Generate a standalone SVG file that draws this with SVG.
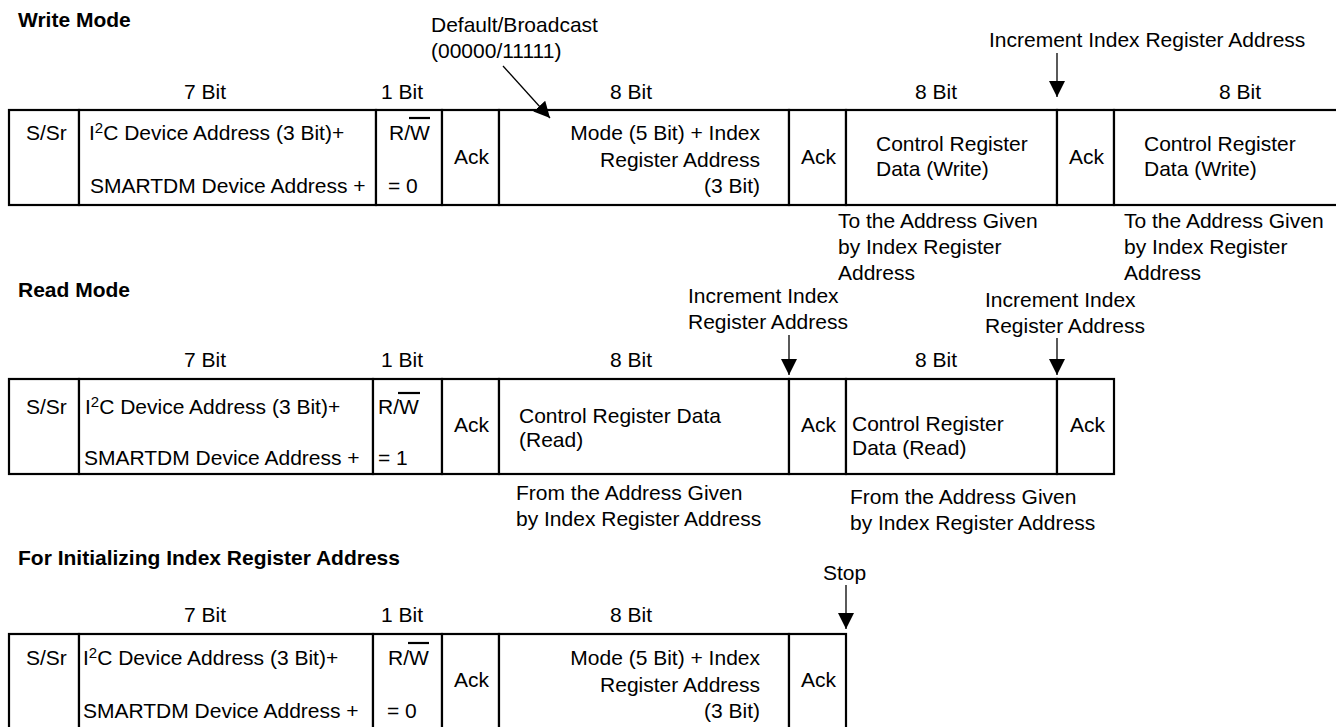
<svg xmlns="http://www.w3.org/2000/svg" width="1336" height="727" viewBox="0 0 1336 727">
<defs>
<style>
text{font-family:"Liberation Sans",Arial,Helvetica,sans-serif;font-size:21px;fill:#000}
.h{font-weight:bold}
.c{fill:#fff;stroke:#000;stroke-width:2.2}
.ov{stroke:#000;stroke-width:2.2}
.ar{stroke:#000;stroke-width:1.3;fill:none}
.sup{font-size:15px}
.e{text-anchor:end}
</style>
<marker id="ah" viewBox="0 0 16 16" refX="16" refY="8" markerWidth="16" markerHeight="16" markerUnits="userSpaceOnUse" orient="auto">
<path d="M0,0 L16,8 L0,16 Z" fill="#000"/>
</marker>
</defs>
<rect width="1336" height="727" fill="#fff"/>

<text class="h" x="18" y="27">Write Mode</text>
<text class="h" x="18" y="297">Read Mode</text>
<text class="h" x="18" y="565">For Initializing Index Register Address</text>

<g id="write-labels">
<text x="184" y="99">7 Bit</text>
<text x="381" y="99">1 Bit</text>
<text x="610" y="99">8 Bit</text>
<text x="915" y="99">8 Bit</text>
<text x="1219" y="99">8 Bit</text>
<text x="431" y="32">Default/Broadcast</text>
<text x="431" y="58">(00000/11111)</text>
<text x="989" y="47">Increment Index Register Address</text>
<text x="838" y="228">To the Address Given</text>
<text x="838" y="254">by Index Register</text>
<text x="838" y="280">Address</text>
<text x="1124" y="228">To the Address Given</text>
<text x="1124" y="254">by Index Register</text>
<text x="1124" y="280">Address</text>
</g>

<g id="w-start"><rect class="c" x="9" y="110" width="70" height="95"/><text x="26" y="140">S/Sr</text></g>
<g id="w-addr"><rect class="c" x="79" y="110" width="297" height="95"/><text x="89" y="140">I<tspan class="sup" dy="-7">2</tspan><tspan dy="7">C Device Address (3 Bit)+</tspan></text><text x="90" y="193">SMARTDM Device Address +</text></g>
<g id="w-rw"><rect class="c" x="376" y="110" width="66" height="95"/><text x="389" y="140">R/W</text><line class="ov" x1="409" y1="118" x2="430" y2="118"/><text x="388" y="193">= 0</text></g>
<g id="w-ack1"><rect class="c" x="442" y="110" width="57" height="95"/><text x="454" y="164">Ack</text></g>
<g id="w-mode"><rect class="c" x="499" y="110" width="290" height="95"/><text class="e" x="760" y="140">Mode (5 Bit) + Index</text><text class="e" x="760" y="167">Register Address</text><text class="e" x="760" y="193">(3 Bit)</text></g>
<g id="w-ack2"><rect class="c" x="789" y="110" width="57" height="95"/><text x="801" y="164">Ack</text></g>
<g id="w-data1"><rect class="c" x="846" y="110" width="211" height="95"/><text x="876" y="151">Control Register</text><text x="876" y="176">Data (Write)</text></g>
<g id="w-ack3"><rect class="c" x="1057" y="110" width="57" height="95"/><text x="1069" y="164">Ack</text></g>
<g id="w-data2"><rect class="c" x="1114" y="110" width="240" height="95"/><text x="1144" y="151">Control Register</text><text x="1144" y="176">Data (Write)</text></g>

<g id="read-labels">
<text x="184" y="367">7 Bit</text>
<text x="381" y="367">1 Bit</text>
<text x="610" y="367">8 Bit</text>
<text x="915" y="367">8 Bit</text>
<text x="688" y="303">Increment Index</text>
<text x="688" y="329">Register Address</text>
<text x="985" y="307">Increment Index</text>
<text x="985" y="333">Register Address</text>
<text x="516" y="500">From the Address Given</text>
<text x="516" y="526">by Index Register Address</text>
<text x="850" y="504">From the Address Given</text>
<text x="850" y="530">by Index Register Address</text>
</g>

<g id="r-start"><rect class="c" x="9" y="379" width="70" height="95"/><text x="26" y="414">S/Sr</text></g>
<g id="r-addr"><rect class="c" x="79" y="379" width="294" height="95"/><text x="85" y="414">I<tspan class="sup" dy="-7">2</tspan><tspan dy="7">C Device Address (3 Bit)+</tspan></text><text x="84" y="465">SMARTDM Device Address +</text></g>
<g id="r-rw"><rect class="c" x="373" y="379" width="69" height="95"/><text x="378" y="414">R/W</text><line class="ov" x1="398" y1="393" x2="420" y2="393"/><text x="378" y="465">= 1</text></g>
<g id="r-ack1"><rect class="c" x="442" y="379" width="57" height="95"/><text x="454" y="432">Ack</text></g>
<g id="r-data1"><rect class="c" x="499" y="379" width="290" height="95"/><text x="519" y="423">Control Register Data</text><text x="519" y="447">(Read)</text></g>
<g id="r-ack2"><rect class="c" x="789" y="379" width="57" height="95"/><text x="801" y="432">Ack</text></g>
<g id="r-data2"><rect class="c" x="846" y="379" width="211" height="95"/><text x="852" y="431">Control Register</text><text x="852" y="455">Data (Read)</text></g>
<g id="r-ack3"><rect class="c" x="1057" y="379" width="57" height="95"/><text x="1070" y="432">Ack</text></g>

<g id="init-labels">
<text x="184" y="622">7 Bit</text>
<text x="381" y="622">1 Bit</text>
<text x="610" y="622">8 Bit</text>
<text x="823" y="580">Stop</text>
</g>

<g id="i-start"><rect class="c" x="9" y="634" width="70" height="95"/><text x="26" y="665">S/Sr</text></g>
<g id="i-addr"><rect class="c" x="79" y="634" width="294" height="95"/><text x="83" y="665">I<tspan class="sup" dy="-7">2</tspan><tspan dy="7">C Device Address (3 Bit)+</tspan></text><text x="83" y="718">SMARTDM Device Address +</text></g>
<g id="i-rw"><rect class="c" x="373" y="634" width="69" height="95"/><text x="388" y="665">R/W</text><line class="ov" x1="408" y1="643" x2="429" y2="643"/><text x="387" y="718">= 0</text></g>
<g id="i-ack1"><rect class="c" x="442" y="634" width="57" height="95"/><text x="454" y="687">Ack</text></g>
<g id="i-mode"><rect class="c" x="499" y="634" width="290" height="95"/><text class="e" x="760" y="665">Mode (5 Bit) + Index</text><text class="e" x="760" y="692">Register Address</text><text class="e" x="760" y="718">(3 Bit)</text></g>
<g id="i-ack2"><rect class="c" x="789" y="634" width="57" height="95"/><text x="801" y="687">Ack</text></g>

<g id="connectors">
<line class="ar" x1="503" y1="66" x2="550" y2="118" marker-end="url(#ah)"/>
<line class="ar" x1="1057" y1="53" x2="1057" y2="97" marker-end="url(#ah)"/>
<line class="ar" x1="789" y1="335" x2="789" y2="375" marker-end="url(#ah)"/>
<line class="ar" x1="1057" y1="338" x2="1057" y2="375" marker-end="url(#ah)"/>
<line class="ar" x1="846" y1="585" x2="846" y2="629" marker-end="url(#ah)"/>
</g>
</svg>
